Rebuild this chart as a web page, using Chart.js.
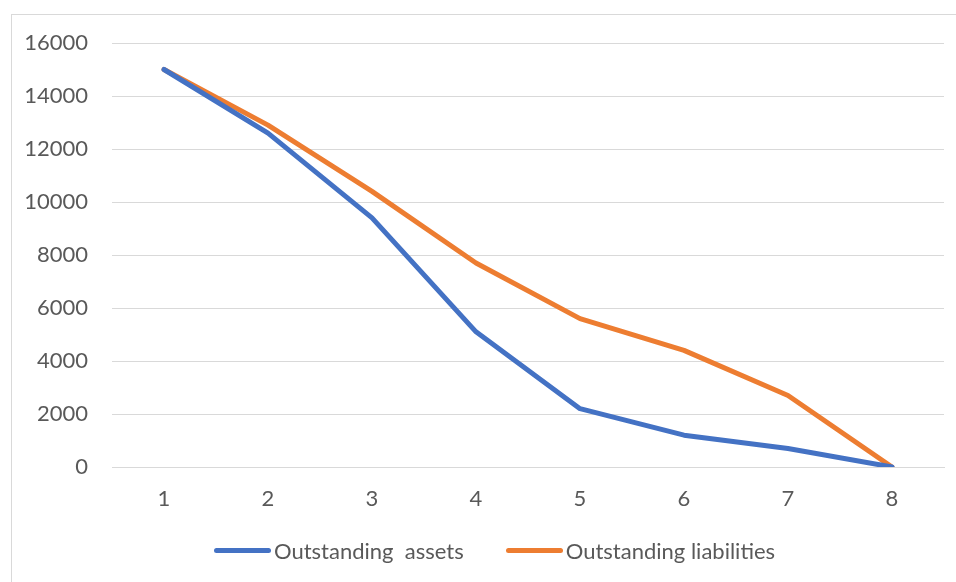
<!DOCTYPE html>
<html>
<head>
<meta charset="utf-8">
<script src="https://cdn.jsdelivr.net/npm/chart.js@4"></script>
<style>
  html, body { margin: 0; padding: 0; background: #fff; overflow: hidden; }
  .frame { position: absolute; left: 11px; top: 14px; width: 960px; height: 600px; border: 1px solid #d9d9d9; }
  .chart-container { position: absolute; left: 0; top: 0; width: 956px; height: 582px; }
  #legend { position: absolute; left: 214px; top: 536px; margin: 0; padding: 0; list-style: none; display: flex;
            font-family: Lato, "Noto Sans", sans-serif; font-size: 22px; color: #595959; white-space: pre; }
  #legend li { display: flex; align-items: center; height: 28px; margin-right: 42px; }
  #legend .legend-color { display: inline-block; width: 57px; height: 5px; border-radius: 3px; margin-right: 3px; }
</style>
</head>
<body>
<div class="frame"></div>
<div class="chart-container">
  <canvas id="lineChart" width="956" height="582"></canvas>
</div>
<ul id="legend"></ul>
<script>
  // data
  var periods = ['1', '2', '3', '4', '5', '6', '7', '8'];
  var assets = [15000, 12600, 9400, 5100, 2200, 1200, 700, 0];
  var liabilities = [15000, 12900, 10400, 7700, 5600, 4400, 2700, 0];
  var yTicks = [0, 2000, 4000, 6000, 8000, 10000, 12000, 14000, 16000];

  var textColor = '#595959';
  var gridColor = '#d9d9d9';
  var fontFamily = 'Lato, "Noto Sans", sans-serif';

  var ctx = document.getElementById('lineChart').getContext('2d');
  var chart = new Chart(ctx, {
    type: 'line',
    data: {
      labels: periods,
      datasets: [
        {
          label: 'Outstanding  assets',
          data: assets,
          borderColor: '#4472c4',
          backgroundColor: '#4472c4',
          borderWidth: 5,
          borderCapStyle: 'round',
          borderJoinStyle: 'round',
          pointRadius: 0,
          fill: false,
          tension: 0
        },
        {
          label: 'Outstanding liabilities',
          data: liabilities,
          borderColor: '#ed7d31',
          backgroundColor: '#ed7d31',
          borderWidth: 5,
          borderCapStyle: 'round',
          borderJoinStyle: 'round',
          pointRadius: 0,
          fill: false,
          tension: 0
        }
      ]
    },
    options: {
      responsive: false,
      animation: false,
      layout: { padding: { top: 43, right: 12, bottom: 63, left: 0 } },
      scales: {
        x: {
          offset: true,
          grid: { display: false, drawTicks: false },
          border: { display: true, color: gridColor, width: 1 },
          ticks: { color: textColor, font: { family: fontFamily, size: 22 }, padding: 19, maxRotation: 0 },
          afterFit: function (scale) { scale.height = 52; }
        },
        y: {
          min: 0,
          max: 16000,
          afterBuildTicks: function (scale) {
            scale.ticks = yTicks.map(function (v) { return { value: v }; });
          },
          grid: { color: gridColor, lineWidth: 1, drawTicks: false },
          border: { display: false },
          ticks: {
            color: textColor,
            font: { family: fontFamily, size: 22 },
            padding: 24,
            callback: function (value) { return String(value); }
          },
          afterFit: function (scale) { scale.width = 112; }
        }
      },
      plugins: {
        legend: { display: false },
        tooltip: { enabled: false }
      }
    }
  });

  // html legend, like the workbook one
  var legendHTML = '';
  chart.data.datasets.forEach(function (ds) {
    legendHTML += '<li><span class="legend-color" style="background-color:' + ds.borderColor + '"></span>' + ds.label + '</li>';
  });
  document.getElementById('legend').innerHTML = legendHTML;
</script>
</body>
</html>
